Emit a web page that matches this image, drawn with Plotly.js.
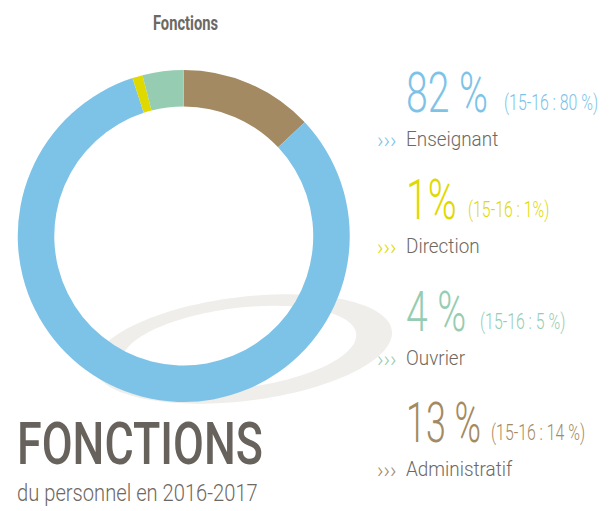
<!DOCTYPE html>
<html><head><meta charset="utf-8">
<script src="https://cdn.plot.ly/plotly-3.0.1.min.js"></script>
<style>html,body{margin:0;padding:0;background:#fff}#chart{width:612px;height:511px}</style>
</head><body><div id="chart"></div>
<script>
// ---- data ----
const categories = ["Administratif", "Enseignant", "Direction", "Ouvrier"];
const values1617 = [13, 82, 1, 4];
const values1516 = [14, 80, 1, 5];
const sliceColors = ["#a38a62", "#7dc3e8", "#dfd900", "#96cdb2"];
const listOrder = ["Enseignant", "Direction", "Ouvrier", "Administratif"];
const chartTitle = "Fonctions";
const bigTitle = "FONCTIONS";
const subTitle = "du personnel en 2016-2017";

// ---- layout helpers ----
const W = 612, H = 511;
const px = x => x / W, py = y => 1 - y / H;
const FONT = "Roboto, 'Open Sans', sans-serif";
const TXT = "#6d6862";

function pct(v) { return v === 1 ? v + "%" : v + " %"; }

const rowBaseline = [113, 220, 332, 443];  // baseline of the big numbers
const parenX = [502, 466, 478, 489];
const bigCondense = [0.70, 0.70, 0.70, 0.64];
const annotations = [];
const condense = [];   // horizontal condensing factor per annotation (narrow typeface look)
function add(a, s) { annotations.push(a); condense.push(s); }

listOrder.forEach((name, r) => {
  const i = categories.indexOf(name);
  const b = rowBaseline[r];
  add({
    text: pct(values1617[i]), x: px(404), y: py(b - 20), xref: "paper", yref: "paper",
    xanchor: "left", yanchor: "middle", showarrow: false,
    font: {family: FONT, size: 56, color: sliceColors[i], weight: 300}
  }, bigCondense[r]);
  add({
    text: "(15-16 : " + pct(values1516[i]) + ")", x: px(parenX[r]), y: py(b - 10),
    xref: "paper", yref: "paper", xanchor: "left", yanchor: "middle", showarrow: false,
    font: {family: FONT, size: 22, color: sliceColors[i], weight: 300}
  }, 0.72);
  add({
    text: "›››", x: px(375), y: py(b + 27), xref: "paper", yref: "paper",
    xanchor: "left", yanchor: "middle", showarrow: false,
    font: {family: FONT, size: 22, color: sliceColors[i], weight: 300}
  }, 1);
  add({
    text: name, x: px(404), y: py(b + 26), xref: "paper", yref: "paper",
    xanchor: "left", yanchor: "middle", showarrow: false,
    font: {family: FONT, size: 21, color: TXT, weight: 300}
  }, 0.9);
});
add({
  text: chartTitle, x: px(186), y: py(23), xref: "paper", yref: "paper",
  xanchor: "center", yanchor: "middle", showarrow: false,
  font: {family: FONT, size: 21, color: TXT, weight: 700}
}, 0.7);
add({
  text: bigTitle, x: px(15), y: py(443), xref: "paper", yref: "paper",
  xanchor: "left", yanchor: "middle", showarrow: false,
  font: {family: FONT, size: 59, color: "#67625c", weight: 500}
}, 0.76);
add({
  text: subTitle, x: px(15), y: py(493), xref: "paper", yref: "paper",
  xanchor: "left", yanchor: "middle", showarrow: false,
  font: {family: FONT, size: 24, color: TXT, weight: 300}
}, 0.84);

// decorative tilted ring behind the donut
function ellipsePath(cx, cy, rx, ry, rotDeg) {
  const t = rotDeg * Math.PI / 180, pts = [];
  for (let k = 0; k <= 120; k++) {
    const a = 2 * Math.PI * k / 120;
    const ex = rx * Math.cos(a), ey = ry * Math.sin(a);
    const x = cx + ex * Math.cos(t) - ey * Math.sin(t);
    const y = cy + ex * Math.sin(t) + ey * Math.cos(t);
    pts.push((k ? "L" : "M") + px(x).toFixed(5) + "," + py(y).toFixed(5));
  }
  return pts.join(" ") + " Z";
}
const shapes = [{
  type: "path", xref: "paper", yref: "paper", layer: "below",
  path: ellipsePath(243, 349, 150, 52, -7) + " " + ellipsePath(239, 348, 118, 40, -7),
  fillrule: "evenodd", fillcolor: "#efeeeb", line: {width: 0}
}];

const trace = {
  type: "pie", labels: categories, values: values1617, hole: 0.78,
  sort: false, direction: "clockwise", rotation: 0,
  marker: {colors: sliceColors, line: {width: 0}},
  textinfo: "none", hoverinfo: "label+percent",
  domain: {x: [px(17.5), px(350)], y: [py(402), py(70)]},
  showlegend: false
};

Plotly.newPlot("chart", [trace], {
  width: W, height: H, margin: {l: 0, r: 0, t: 0, b: 0},
  paper_bgcolor: "#ffffff", plot_bgcolor: "#ffffff",
  showlegend: false, annotations: annotations, shapes: shapes
}, {displayModeBar: false, staticPlot: true}).then(gd => {
  gd.querySelectorAll("g.annotation").forEach(g => {
    const idx = +g.getAttribute("data-index");
    const s = condense[idx];
    const t = g.querySelector("text.annotation-text");
    if (!t || s === 1) return;
    const a = annotations[idx];
    t.style.transformBox = "fill-box";
    t.style.transformOrigin = (a.xanchor === "center" ? "50%" : "0%") + " 50%";
    t.style.transform = "scaleX(" + s + ")";
  });
});
</script></body></html>
